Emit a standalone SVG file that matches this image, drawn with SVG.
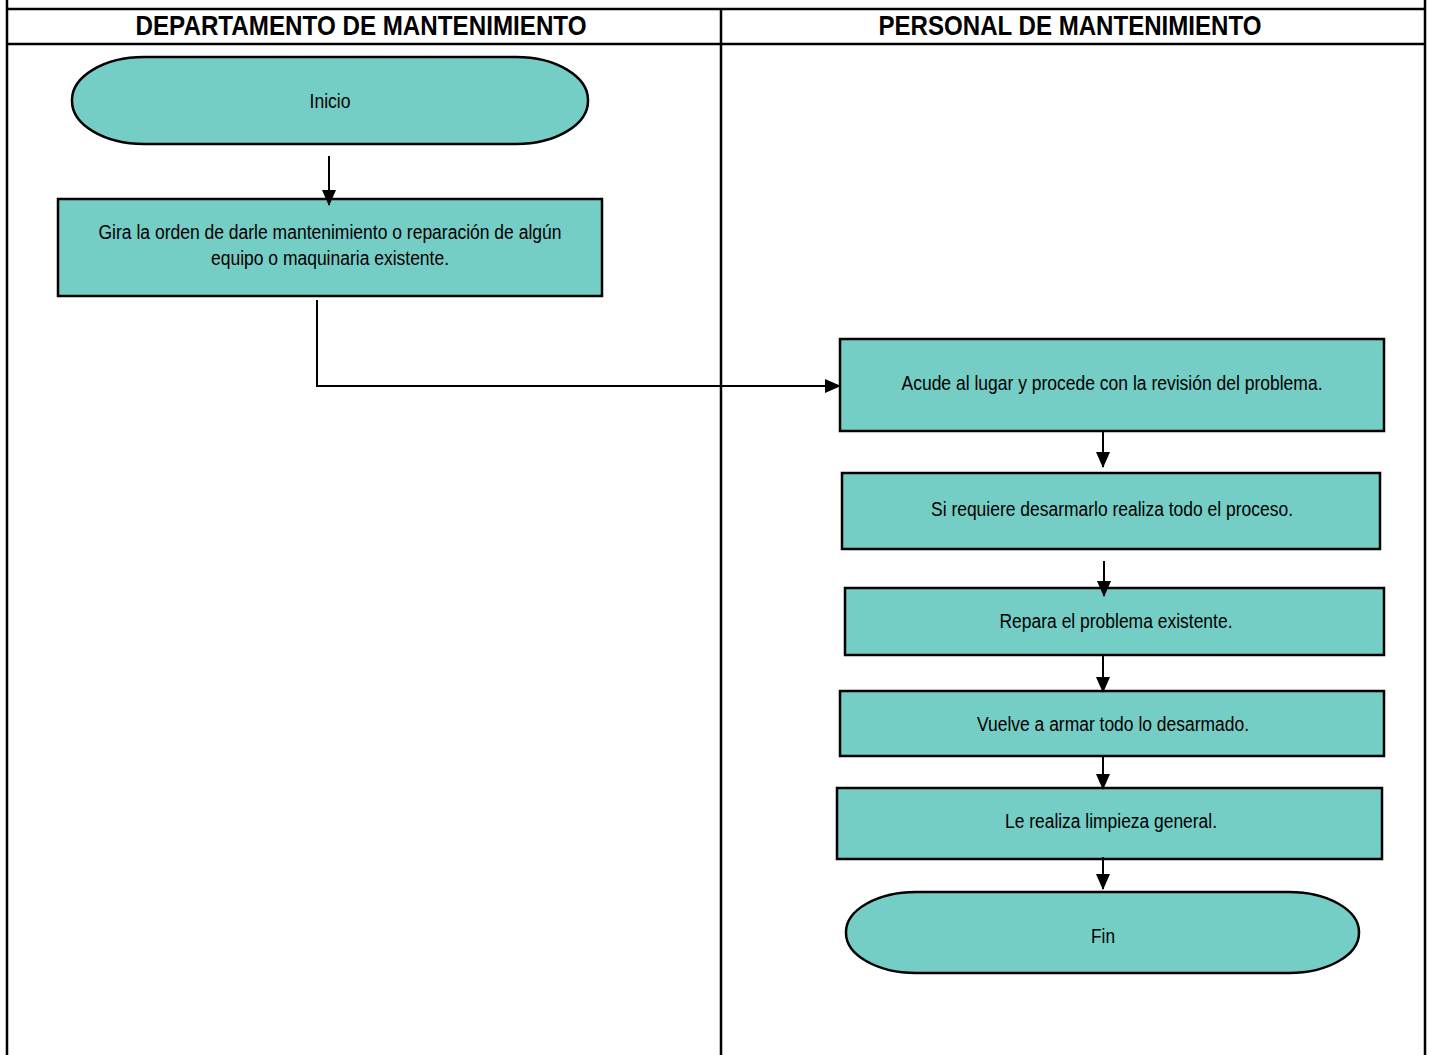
<svg xmlns="http://www.w3.org/2000/svg" width="1430" height="1055" viewBox="0 0 1430 1055">
<style>
.frame{stroke:#000;stroke-width:2.5;fill:none}
.node{fill:#74CEC6;stroke:#000;stroke-width:2.5}
.hdr{font-family:"Liberation Sans Narrow","Arial Narrow","Liberation Sans",sans-serif;font-weight:bold;font-size:28px;text-anchor:middle;fill:#000}
.lbl{font-family:"Liberation Sans Narrow","Arial Narrow","Liberation Sans",sans-serif;font-size:20px;text-anchor:middle;fill:#000}
.conn{stroke:#000;stroke-width:2;fill:none}
</style>
<defs>
<marker id="arr" markerWidth="16" markerHeight="14" refX="15" refY="7" orient="auto" markerUnits="userSpaceOnUse">
<path d="M0,0 L16,7 L0,14 Z" fill="#000"/>
</marker>
</defs>
<rect width="1430" height="1055" fill="#fff"/>
<g id="lanes">
<line class="frame" x1="7" y1="0" x2="7" y2="1055"/>
<line class="frame" x1="1425" y1="0" x2="1425" y2="1055"/>
<line class="frame" x1="721" y1="9" x2="721" y2="1055"/>
<line class="frame" x1="7" y1="9" x2="1425" y2="9"/>
<line class="frame" x1="7" y1="44" x2="1425" y2="44"/>
<text class="hdr" x="361" y="35" textLength="451" lengthAdjust="spacingAndGlyphs">DEPARTAMENTO DE MANTENIMIENTO</text>
<text class="hdr" x="1070" y="35" textLength="383" lengthAdjust="spacingAndGlyphs">PERSONAL DE MANTENIMIENTO</text>
</g>
<g id="inicio">
<rect class="node" x="72" y="57" width="516" height="87" rx="72" ry="43"/>
<text class="lbl" x="330" y="108" textLength="41" lengthAdjust="spacingAndGlyphs">Inicio</text>
</g>
<g id="gira">
<rect class="node" x="58" y="199" width="544" height="97"/>
<text class="lbl" x="330" y="239" textLength="463" lengthAdjust="spacingAndGlyphs">Gira la orden de darle mantenimiento o reparación de algún</text>
<text class="lbl" x="330" y="265" textLength="238" lengthAdjust="spacingAndGlyphs">equipo o maquinaria existente.</text>
</g>
<g id="acude">
<rect class="node" x="840" y="339" width="544" height="92"/>
<text class="lbl" x="1112" y="390" textLength="421" lengthAdjust="spacingAndGlyphs">Acude al lugar y procede con la revisión del problema.</text>
</g>
<g id="desarmar">
<rect class="node" x="842" y="473" width="538" height="76"/>
<text class="lbl" x="1112" y="516" textLength="362" lengthAdjust="spacingAndGlyphs">Si requiere desarmarlo realiza todo el proceso.</text>
</g>
<g id="repara">
<rect class="node" x="845" y="588" width="539" height="67"/>
<text class="lbl" x="1116" y="628" textLength="233" lengthAdjust="spacingAndGlyphs">Repara el problema existente.</text>
</g>
<g id="armar">
<rect class="node" x="840" y="691" width="544" height="65"/>
<text class="lbl" x="1113" y="731" textLength="272" lengthAdjust="spacingAndGlyphs">Vuelve a armar todo lo desarmado.</text>
</g>
<g id="limpieza">
<rect class="node" x="837" y="788" width="545" height="71"/>
<text class="lbl" x="1111" y="828" textLength="212" lengthAdjust="spacingAndGlyphs">Le realiza limpieza general.</text>
</g>
<g id="fin">
<rect class="node" x="846" y="892" width="513" height="81" rx="70" ry="40"/>
<text class="lbl" x="1103" y="943" textLength="24" lengthAdjust="spacingAndGlyphs">Fin</text>
</g>
<g id="connectors">
<line class="conn" x1="329" y1="156" x2="329" y2="205" marker-end="url(#arr)"/>
<polyline class="conn" points="317,300 317,386 840,386" marker-end="url(#arr)"/>
<line class="conn" x1="1103" y1="432" x2="1103" y2="467" marker-end="url(#arr)"/>
<line class="conn" x1="1104" y1="561" x2="1104" y2="596" marker-end="url(#arr)"/>
<line class="conn" x1="1103" y1="656" x2="1103" y2="692" marker-end="url(#arr)"/>
<line class="conn" x1="1103" y1="757" x2="1103" y2="789" marker-end="url(#arr)"/>
<line class="conn" x1="1103" y1="857" x2="1103" y2="889" marker-end="url(#arr)"/>
</g>
</svg>
